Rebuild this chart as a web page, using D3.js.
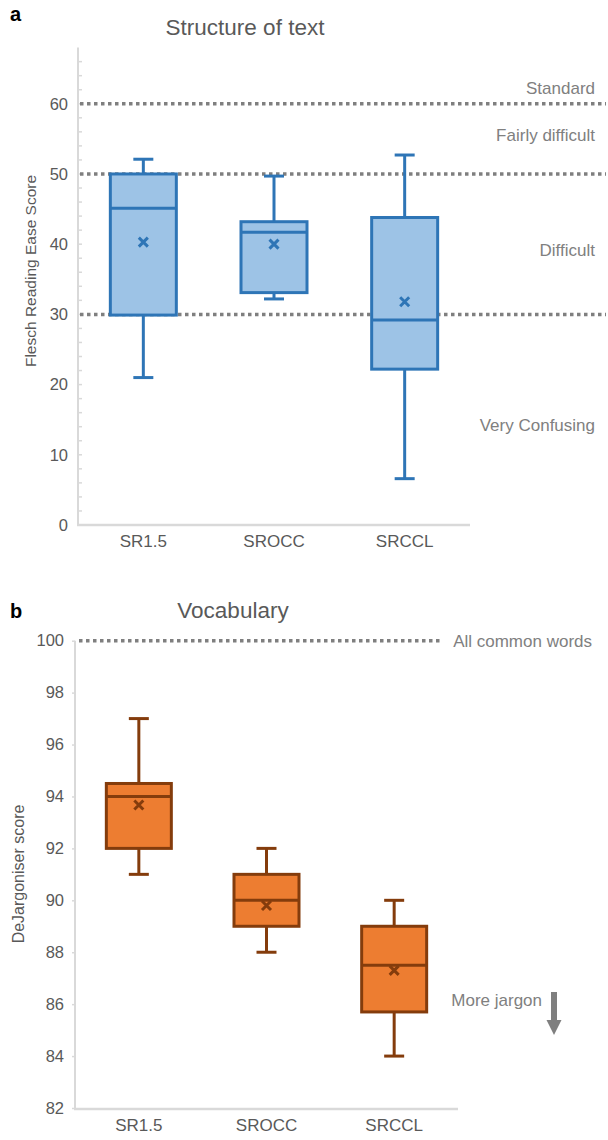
<!DOCTYPE html>
<html>
<head>
<meta charset="utf-8">
<script src="https://cdn.jsdelivr.net/npm/d3@7/dist/d3.min.js"></script>
<style>
  html, body { margin: 0; padding: 0; background: #fff; }
  svg { display: block; font-family: "Liberation Sans", Arial, sans-serif; }
</style>
</head>
<body>
<svg id="chart" width="608" height="1140"></svg>
<script>
// ---------- data ----------
const categories = ["SR1.5", "SROCC", "SRCCL"];

// Panel a: Flesch Reading Ease
const fleschMin    = [21.0, 32.2, 6.6];
const fleschQ1     = [29.9, 33.1, 22.2];
const fleschMedian = [45.1, 41.7, 29.2];
const fleschQ3     = [50.0, 43.2, 43.8];
const fleschMax    = [52.1, 49.7, 52.7];
const fleschMean   = [40.3, 40.0, 31.8];
const fleschTicks  = [0, 10, 20, 30, 40, 50, 60];
const fleschRefValues = [60, 50, 30];
const fleschBands = ["Standard", "Fairly difficult", "Difficult", "Very Confusing"];
const fleschBandValues = [62.3, 55.5, 39.2, 14.2];

// Panel b: DeJargoniser
const jargMin    = [91.0, 88.0, 84.0];
const jargQ1     = [92.0, 89.0, 85.7];
const jargMedian = [94.0, 90.0, 87.5];
const jargQ3     = [94.5, 91.0, 89.0];
const jargMax    = [97.0, 92.0, 90.0];
const jargMean   = [93.67, 89.8, 87.3];
const jargTicks  = [82, 84, 86, 88, 90, 92, 94, 96, 98, 100];
const jargRefValues = [100];

// ---------- drawing ----------
const svg = d3.select("#chart");
const TICK_COLOR = "#595959";
const NOTE_COLOR = "#808080";
const AXIS_COLOR = "#d9d9d9";

function rows(mins, q1s, meds, q3s, maxs, means) {
  return categories.map((c, i) => ({ cat: c, min: mins[i], q1: q1s[i], med: meds[i], q3: q3s[i], max: maxs[i], mean: means[i] }));
}

function drawBoxes(g, data, x, y, boxW, fill, stroke) {
  const capW = 20;
  const gg = g.selectAll("g.box").data(data).join("g").attr("class", "box");
  const cx = d => x(d.cat) + x.bandwidth() / 2;
  // whiskers
  gg.append("line").attr("x1", cx).attr("x2", cx).attr("y1", d => y(d.max)).attr("y2", d => y(d.q3))
    .attr("stroke", stroke).attr("stroke-width", 3);
  gg.append("line").attr("x1", cx).attr("x2", cx).attr("y1", d => y(d.q1)).attr("y2", d => y(d.min))
    .attr("stroke", stroke).attr("stroke-width", 3);
  gg.append("line").attr("x1", d => cx(d) - capW / 2).attr("x2", d => cx(d) + capW / 2)
    .attr("y1", d => y(d.max)).attr("y2", d => y(d.max)).attr("stroke", stroke).attr("stroke-width", 3);
  gg.append("line").attr("x1", d => cx(d) - capW / 2).attr("x2", d => cx(d) + capW / 2)
    .attr("y1", d => y(d.min)).attr("y2", d => y(d.min)).attr("stroke", stroke).attr("stroke-width", 3);
  // box
  gg.append("rect").attr("x", d => cx(d) - boxW / 2).attr("width", boxW)
    .attr("y", d => y(d.q3)).attr("height", d => y(d.q1) - y(d.q3))
    .attr("fill", fill).attr("stroke", stroke).attr("stroke-width", 3);
  // median
  gg.append("line").attr("x1", d => cx(d) - boxW / 2).attr("x2", d => cx(d) + boxW / 2)
    .attr("y1", d => y(d.med)).attr("y2", d => y(d.med)).attr("stroke", stroke).attr("stroke-width", 3);
  // mean marker x
  const s = 4.5;
  gg.append("path").attr("d", d => {
      const px = cx(d), py = y(d.mean);
      return `M${px - s},${py - s}L${px + s},${py + s}M${px - s},${py + s}L${px + s},${py - s}`;
    }).attr("stroke", stroke).attr("stroke-width", 3).attr("fill", "none");
}

// ===== Panel a =====
{
  const left = 78, right = 470, top = 47.6, bottom = 525;
  const x = d3.scaleBand().domain(categories).range([left, right]).padding(0);
  const y = d3.scaleLinear().domain([0, 68]).range([bottom, top]);
  const g = svg.append("g");

  svg.append("text").attr("x", 10).attr("y", 21).attr("font-size", 20).attr("font-weight", "bold").attr("fill", "#000").text("a");
  svg.append("text").attr("x", 245).attr("y", 35).attr("text-anchor", "middle").attr("font-size", 22.5).attr("fill", TICK_COLOR).text("Structure of text");

  // minor ticks every 2
  const minor = d3.range(2, 68, 2);
  g.selectAll("line.minor").data(minor).join("line").attr("class", "minor")
    .attr("x1", left).attr("x2", left + 4).attr("y1", d => y(d)).attr("y2", d => y(d))
    .attr("stroke", AXIS_COLOR).attr("stroke-width", 1.5);

  // y axis line
  g.append("line").attr("x1", left).attr("x2", left).attr("y1", y(68)).attr("y2", bottom).attr("stroke", AXIS_COLOR).attr("stroke-width", 2);
  // x axis line
  g.append("line").attr("x1", left - 1).attr("x2", right).attr("y1", bottom).attr("y2", bottom).attr("stroke", AXIS_COLOR).attr("stroke-width", 2.5);

  // tick labels via axis
  const yAxis = d3.axisLeft(y).tickValues(fleschTicks).tickSize(0).tickPadding(10);
  const ya = g.append("g").attr("transform", `translate(${left},0)`).call(yAxis);
  ya.select(".domain").remove();
  ya.selectAll("text").attr("font-size", 16.5).attr("fill", TICK_COLOR).attr("font-family", "Liberation Sans, Arial, sans-serif");

  const xAxis = d3.axisBottom(x).tickSize(0).tickPadding(10);
  const xa = g.append("g").attr("transform", `translate(0,${bottom})`).call(xAxis);
  xa.select(".domain").remove();
  xa.selectAll("text").attr("font-size", 17).attr("fill", TICK_COLOR).attr("font-family", "Liberation Sans, Arial, sans-serif");

  // y label
  svg.append("text").attr("transform", `translate(36,${271}) rotate(-90)`).attr("text-anchor", "middle")
    .attr("font-size", 15.5).attr("fill", TICK_COLOR).text("Flesch Reading Ease Score");

  // reference lines
  g.selectAll("line.ref").data(fleschRefValues).join("line").attr("class", "ref")
    .attr("x1", left + 2).attr("x2", 606).attr("y1", d => y(d)).attr("y2", d => y(d))
    .attr("stroke", "#7f7f7f").attr("stroke-width", 3.5).attr("stroke-dasharray", "3.5,3.5");

  // band labels
  g.selectAll("text.band").data(fleschBands).join("text").attr("class", "band")
    .attr("x", 595).attr("y", (d, i) => y(fleschBandValues[i]) + 6).attr("text-anchor", "end")
    .attr("font-size", 17).attr("fill", NOTE_COLOR).text(d => d);

  drawBoxes(g, rows(fleschMin, fleschQ1, fleschMedian, fleschQ3, fleschMax, fleschMean), x, y, 66, "#9dc3e6", "#2e75b6");
}

// ===== Panel b =====
{
  const left = 75, right = 458, top = 640.7, bottom = 1108;
  const x = d3.scaleBand().domain(categories).range([left, right]).padding(0);
  const y = d3.scaleLinear().domain([82, 100]).range([bottom, top]);
  const g = svg.append("g");

  svg.append("text").attr("x", 10).attr("y", 618).attr("font-size", 20).attr("font-weight", "bold").attr("fill", "#000").text("b");
  svg.append("text").attr("x", 233).attr("y", 618).attr("text-anchor", "middle").attr("font-size", 22.5).attr("fill", TICK_COLOR).text("Vocabulary");

  // y axis line
  g.append("line").attr("x1", left).attr("x2", left).attr("y1", top).attr("y2", bottom).attr("stroke", AXIS_COLOR).attr("stroke-width", 2);
  g.append("line").attr("x1", left - 1).attr("x2", right).attr("y1", bottom + 1).attr("y2", bottom + 1).attr("stroke", AXIS_COLOR).attr("stroke-width", 2.5);

  const yAxis = d3.axisLeft(y).tickValues(jargTicks).tickSize(3).tickPadding(8);
  const ya = g.append("g").attr("transform", `translate(${left},0)`).call(yAxis);
  ya.select(".domain").remove();
  ya.selectAll("line").attr("stroke", AXIS_COLOR).attr("stroke-width", 1.5);
  ya.selectAll("text").attr("font-size", 16.5).attr("fill", TICK_COLOR).attr("font-family", "Liberation Sans, Arial, sans-serif");

  const xAxis = d3.axisBottom(x).tickSize(0).tickPadding(10);
  const xa = g.append("g").attr("transform", `translate(0,${bottom + 1})`).call(xAxis);
  xa.select(".domain").remove();
  xa.selectAll("text").attr("font-size", 17).attr("fill", TICK_COLOR).attr("font-family", "Liberation Sans, Arial, sans-serif");

  svg.append("text").attr("transform", `translate(24,${874}) rotate(-90)`).attr("text-anchor", "middle")
    .attr("font-size", 16).attr("fill", TICK_COLOR).text("DeJargoniser score");

  g.selectAll("line.ref").data(jargRefValues).join("line").attr("class", "ref")
    .attr("x1", left + 4).attr("x2", 440).attr("y1", d => y(d)).attr("y2", d => y(d))
    .attr("stroke", "#7f7f7f").attr("stroke-width", 3.5).attr("stroke-dasharray", "3.5,3.5");
  g.append("text").attr("x", 592).attr("y", y(100) + 6).attr("text-anchor", "end")
    .attr("font-size", 17).attr("fill", NOTE_COLOR).text("All common words");

  // More jargon annotation
  g.append("text").attr("x", 542).attr("y", 1006).attr("text-anchor", "end")
    .attr("font-size", 17).attr("fill", NOTE_COLOR).text("More jargon");
  g.append("line").attr("x1", 554).attr("x2", 554).attr("y1", 992).attr("y2", 1022)
    .attr("stroke", "#7f7f7f").attr("stroke-width", 6);
  g.append("path").attr("d", "M546.5,1020L561.5,1020L554,1035Z").attr("fill", "#7f7f7f");

  drawBoxes(g, rows(jargMin, jargQ1, jargMedian, jargQ3, jargMax, jargMean), x, y, 65, "#ed7d31", "#843c0c");
}
</script>
</body>
</html>
